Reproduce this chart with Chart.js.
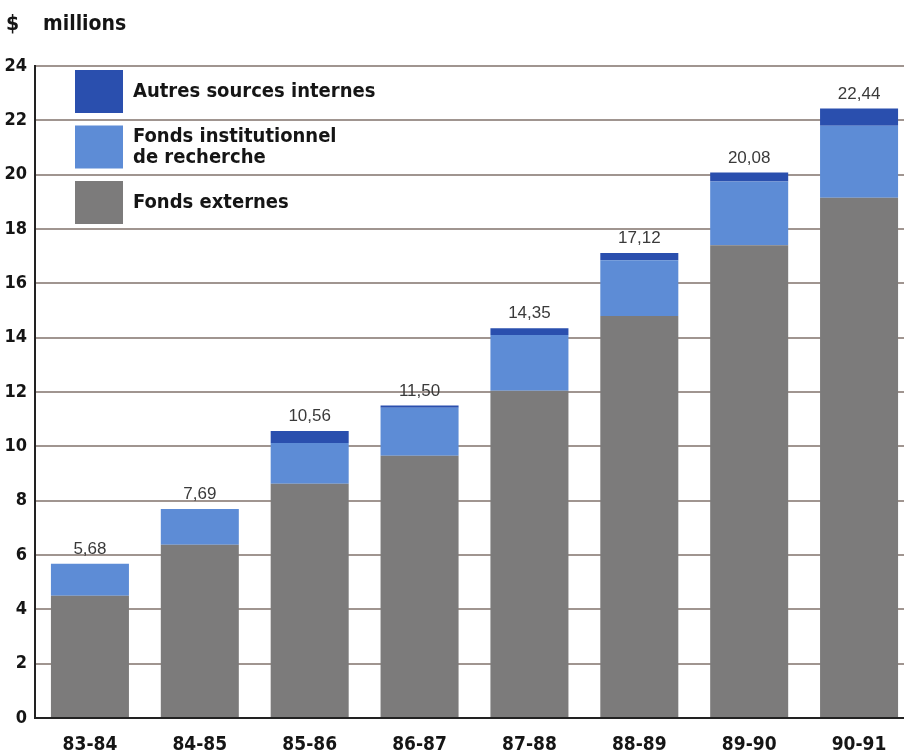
<!DOCTYPE html>
<html>
<head>
<meta charset="utf-8">
<script src="https://cdn.jsdelivr.net/npm/chart.js@4.4.1/dist/chart.umd.min.js"></script>
<style>
  html, body { margin: 0; padding: 0; background: #ffffff; overflow: hidden; }
  #wrap { width: 904px; height: 754px; position: relative; overflow: hidden; }
  #c { display: block; }
</style>
</head>
<body>
<div id="wrap"><canvas id="c" width="914" height="754"></canvas></div>
<script>
// ---- Data ----
const categories = ['83-84', '84-85', '85-86', '86-87', '87-88', '88-89', '89-90', '90-91'];
const fondsExternes = [4.50, 6.38, 8.62, 9.65, 12.05, 14.80, 17.40, 19.15];
const fondsInstitutionnel = [1.18, 1.31, 1.50, 1.77, 2.05, 2.05, 2.35, 2.65];
const autresSources = [0, 0, 0.44, 0.08, 0.25, 0.27, 0.33, 0.64];
const totalLabels = ['5,68', '7,69', '10,56', '11,50', '14,35', '17,12', '20,08', '22,44'];
const yTicks = [0, 2, 4, 6, 8, 10, 12, 14, 16, 18, 20, 22, 24];
const unitTitle = ['$', 'millions'];
const seriesNames = ['Fonds externes', 'Fonds institutionnel de recherche', 'Autres sources internes'];
const legendLines = [['Autres sources internes'], ['Fonds institutionnel', 'de recherche'], ['Fonds externes']];

// ---- Styles ----
const COL_GRAY = '#7c7b7b';
const COL_LIGHT = '#5d8cd6';
const COL_DARK = '#2a4fae';
const NARROW = "'Liberation Sans Narrow', 'DejaVu Sans Condensed', 'Liberation Sans', Arial, sans-serif";
const SANS = "'Liberation Sans', Arial, sans-serif";

const overlayPlugin = {
  id: 'overlay',
  afterDatasetsDraw(chart) {
    const ctx = chart.ctx;
    const area = chart.chartArea;
    // totals above bars
    const lastMeta = chart.getDatasetMeta(chart.data.datasets.length - 1);
    ctx.save();
    ctx.fillStyle = '#3a3a3a';
    ctx.font = "17px " + SANS;
    ctx.textAlign = 'center';
    ctx.textBaseline = 'bottom';
    lastMeta.data.forEach((el, i) => {
      ctx.fillText(totalLabels[i], el.x, el.y - 6);
    });
    ctx.restore();

    // legend (reverse order: top series first)
    const colors = [COL_DARK, COL_LIGHT, COL_GRAY];
    ctx.save();
    ctx.font = "bold 20px " + NARROW;
    ctx.textAlign = 'left';
    ctx.textBaseline = 'middle';
    for (let k = 0; k < 3; k++) {
      const bx = area.left + 40;
      const by = area.top + 4 + k * 55.5;
      ctx.fillStyle = colors[k];
      ctx.fillRect(bx, by, 48, 43);
      ctx.fillStyle = '#151515';
      const lines = legendLines[k];
      const lh = 21;
      const startY = by + 21.5 - (lines.length - 1) * lh / 2;
      lines.forEach((t, j) => ctx.fillText(t, area.left + 98, startY + j * lh));
    }
    ctx.restore();

    // unit title
    ctx.save();
    ctx.fillStyle = '#151515';
    ctx.font = "bold 21px " + NARROW;
    ctx.textAlign = 'left';
    ctx.textBaseline = 'middle';
    ctx.fillText(unitTitle[0], 6, 25);
    ctx.fillText(unitTitle[1], 43, 25);
    ctx.restore();
  }
};

new Chart(document.getElementById('c'), {
  type: 'bar',
  data: {
    labels: categories,
    datasets: [
      { label: seriesNames[0], data: fondsExternes, backgroundColor: COL_GRAY },
      { label: seriesNames[1], data: fondsInstitutionnel, backgroundColor: COL_LIGHT },
      { label: seriesNames[2], data: autresSources, backgroundColor: COL_DARK }
    ]
  },
  options: {
    responsive: false,
    animation: false,
    maintainAspectRatio: false,
    layout: { padding: { top: 66, left: 0, right: 0, bottom: 0 } },
    datasets: { bar: { barPercentage: 0.71, categoryPercentage: 1.0, borderWidth: 0 } },
    plugins: {
      legend: { display: false },
      title: { display: false },
      tooltip: { enabled: false }
    },
    scales: {
      x: {
        stacked: true,
        grid: { display: false, drawTicks: false },
        border: { display: true, color: '#222222', width: 2 },
        ticks: {
          color: '#151515',
          font: { family: NARROW, size: 19, weight: 'bold' },
          padding: 16,
          maxRotation: 0
        },
        afterFit(scale) { scale.height = 36; }
      },
      y: {
        stacked: true,
        min: 0,
        max: 24,
        afterBuildTicks(scale) { scale.ticks = yTicks.map(v => ({ value: v })); },
        grid: { color: '#a09590', lineWidth: 2, drawTicks: false },
        border: { display: true, color: '#222222', width: 2 },
        ticks: {
          color: '#151515',
          font: { family: NARROW, size: 18, weight: 'bold' },
          padding: 8
        },
        afterFit(scale) { scale.width = 35; }
      }
    }
  },
  plugins: [overlayPlugin]
});
</script>
</body>
</html>
